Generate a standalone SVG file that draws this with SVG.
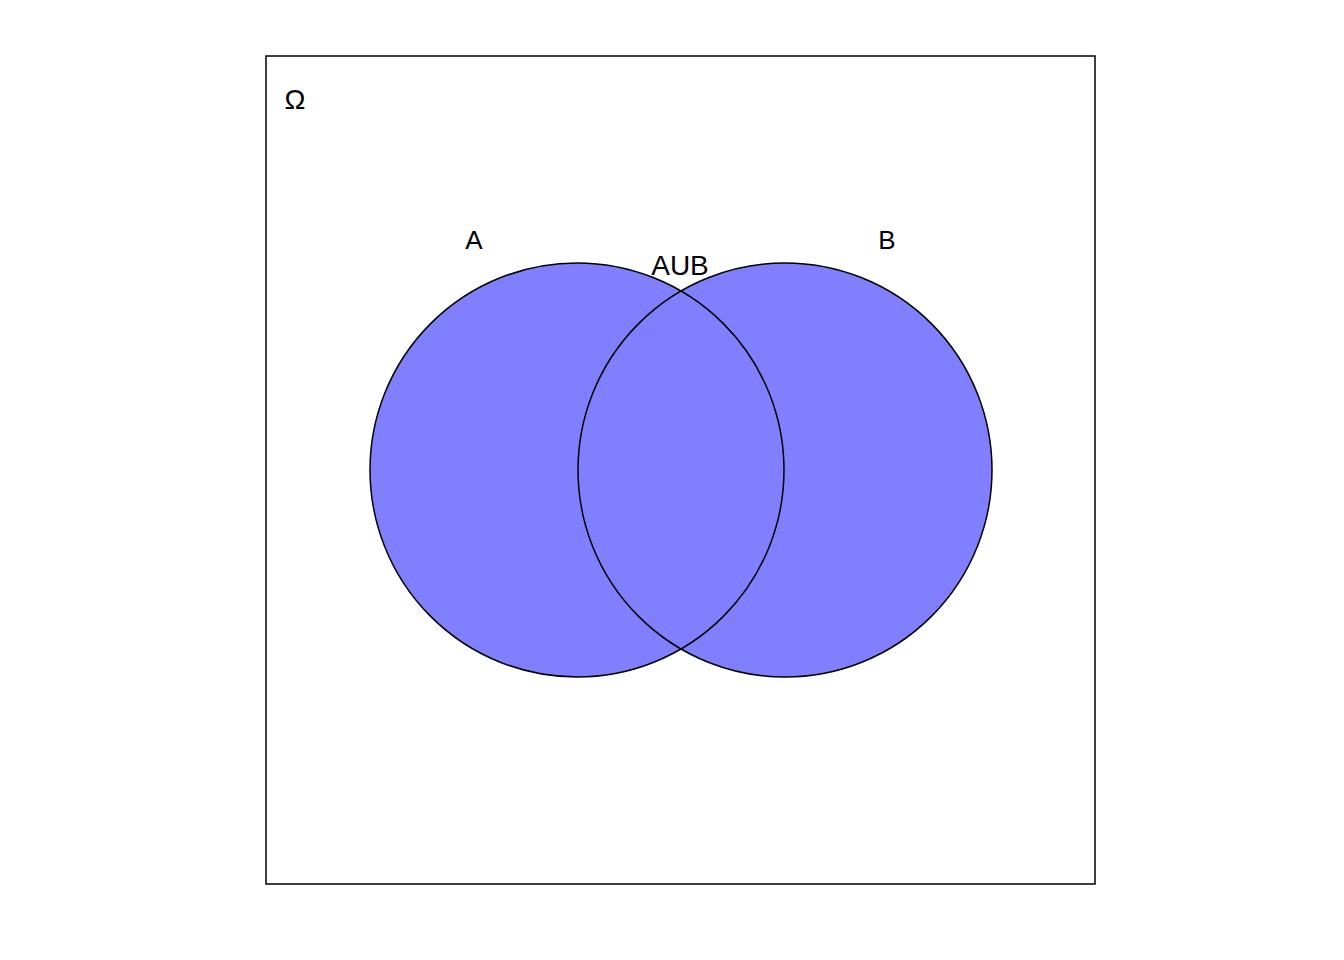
<svg xmlns="http://www.w3.org/2000/svg" width="1344" height="960" viewBox="0 0 1344 960">
<style>
.lbl{font-family:"Liberation Sans",Arial,sans-serif;font-size:26px;fill:#000;text-anchor:middle}
.fill{fill:#8080FF;stroke:none}
.edge{fill:none;stroke:#000;stroke-width:1.5}
</style>
<rect x="0" y="0" width="1344" height="960" fill="#fff"/>
<g id="omega">
<rect x="266" y="56" width="829" height="828" fill="none" stroke="#000" stroke-width="1.5"/>
<text class="lbl" x="295" y="109" style="font-size:28px">Ω</text>
</g>
<g id="fills">
<circle class="fill" cx="577" cy="470" r="207"/>
<circle class="fill" cx="785" cy="470" r="207"/>
</g>
<g id="A">
<circle class="edge" cx="577" cy="470" r="207"/>
<text class="lbl" x="474" y="249">A</text>
</g>
<g id="B">
<circle class="edge" cx="785" cy="470" r="207"/>
<text class="lbl" x="887" y="249">B</text>
</g>
<g id="AUB">
<text class="lbl" x="680" y="275" style="font-size:28px">AUB</text>
</g>
</svg>
